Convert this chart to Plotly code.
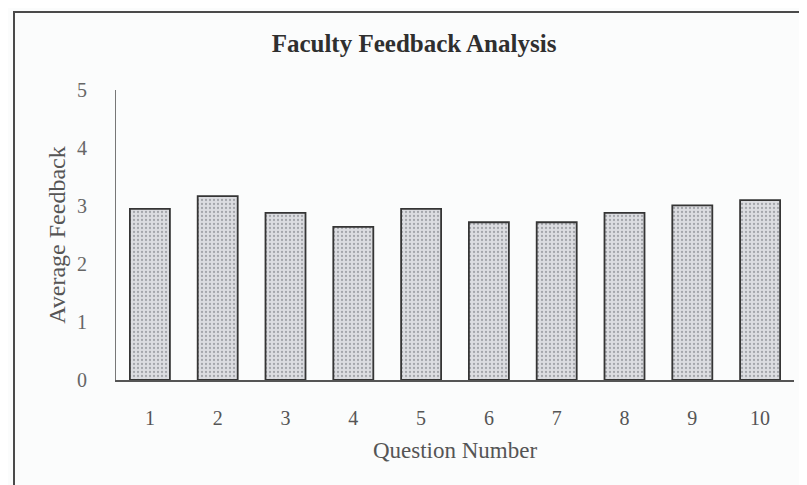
import plotly.graph_objects as go

questions = ["1", "2", "3", "4", "5", "6", "7", "8", "9", "10"]
avg_feedback = [2.95, 3.17, 2.88, 2.64, 2.95, 2.72, 2.72, 2.88, 3.01, 3.10]
y_ticks = [0, 1, 2, 3, 4, 5]

OFF = 8  # browser body margin
W, H = 807 - OFF, 485 - OFF
L, R, T, B = 116 - OFF, 794 - OFF, 90 - OFF, 380 - OFF  # plot area in canvas pixels

fig = go.Figure(go.Bar(
    x=questions, y=avg_feedback,
    marker=dict(
        color="#d6d7db",
        line=dict(color="#353535", width=1.8),
        pattern=dict(shape=".", fgcolor="#a4a6ab", bgcolor="#dcdde1", size=4, solidity=0.25, fillmode="replace"),
    ),
))

def px_to_paper_x(px):
    return (px - OFF - L) / (R - L)

def px_to_paper_y(py):
    return (B - (py - OFF)) / (B - T)

serif = "Liberation Serif, Times New Roman, serif"

fig.update_layout(
    width=W, height=H,
    margin=dict(l=L, r=W - R, t=T, b=H - B),
    paper_bgcolor="#fbfcfc",
    plot_bgcolor="#fbfcfc",
    bargap=0.41,
    showlegend=False,
    font=dict(family=serif, color="#555555"),
    title=dict(text="<b>Faculty Feedback Analysis</b>", x=(414 - OFF) / W, xanchor="center",
               y=1 - (43 - OFF) / H, yanchor="middle",
               font=dict(family=serif, size=25, color="#2f2f2f")),
    xaxis=dict(
        showgrid=False, zeroline=False, showline=True, linecolor="#555555", linewidth=1.5,
        ticks="", ticklabelstandoff=19, tickfont=dict(size=20, color="#555555"),
        title=dict(text="Question Number", font=dict(size=23, color="#555555"), standoff=14),
    ),
    yaxis=dict(
        range=[0, 5], tickvals=y_ticks, showgrid=False, zeroline=False,
        showline=True, linecolor="#777777", linewidth=1,
        ticks="", ticklabelstandoff=24, tickfont=dict(size=20, color="#666666"),
        title=dict(text="Average Feedback", font=dict(size=24, color="#555555"), standoff=4),
    ),
    shapes=[dict(
        type="rect", xref="paper", yref="paper",
        x0=px_to_paper_x(14), x1=px_to_paper_x(840),
        y0=px_to_paper_y(520), y1=px_to_paper_y(12),
        line=dict(color="#4a4a4a", width=2), fillcolor="rgba(0,0,0,0)", layer="below",
    )],
)

fig.write_html("out.html")
